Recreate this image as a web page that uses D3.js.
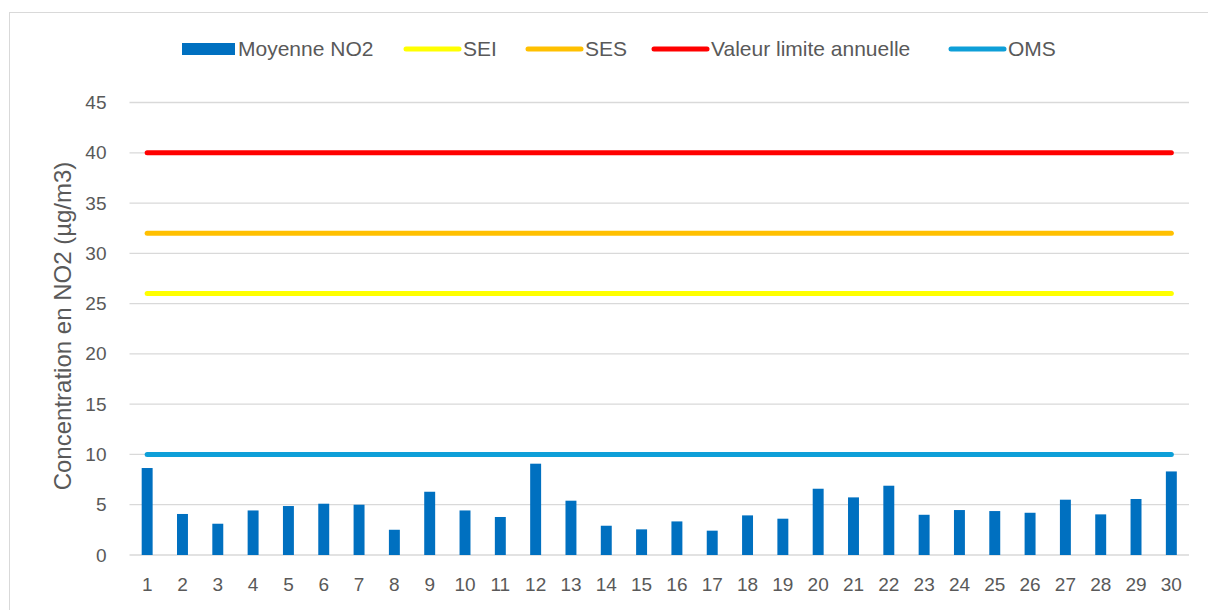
<!DOCTYPE html>
<html>
<head>
<meta charset="utf-8">
<script src="https://cdn.jsdelivr.net/npm/d3@7"></script>
<style>
  body { margin: 0; background: #fff; }
  text { font-family: "Liberation Sans", Arial, sans-serif; fill: #595959; }
</style>
</head>
<body>
<div id="chart"></div>
<script>
// Data
const days = d3.range(1, 31);
const moyenneNO2 = [8.65, 4.08, 3.11, 4.43, 4.87, 5.1, 5.0, 2.51, 6.29, 4.43,
                    3.78, 9.08, 5.4, 2.91, 2.55, 3.34, 2.42, 3.94, 3.61, 6.59,
                    5.73, 6.89, 4.0, 4.47, 4.37, 4.2, 5.5, 4.04, 5.57, 8.31];
const thresholds = [
  { name: "SEI", value: 26, color: "#FFFF00" },
  { name: "SES", value: 32, color: "#FFC000" },
  { name: "Valeur limite annuelle", value: 40, color: "#FF0000" },
  { name: "OMS", value: 10, color: "#0E9FD8" }
];
const yTicks = [0, 5, 10, 15, 20, 25, 30, 35, 40, 45];

const W = 1208, H = 610;
const margin = { top: 102.5, right: 19, bottom: 55, left: 129.5 };
const width = W - margin.left - margin.right,
      height = H - margin.top - margin.bottom;

const root = d3.select("#chart").append("svg")
  .attr("width", W).attr("height", H);

// chart area border
root.append("rect")
  .attr("x", 9.5).attr("y", 12.5)
  .attr("width", W + 10).attr("height", H + 10)
  .attr("fill", "none").attr("stroke", "#d9d9d9").attr("stroke-width", 1);

const svg = root.append("g")
  .attr("transform", `translate(${margin.left},${margin.top})`);

const x = d3.scaleBand().domain(days).range([0, width])
  .paddingInner(0.69).paddingOuter(0.345);
const y = d3.scaleLinear().domain([0, 45]).range([height, 0]);

// gridlines
svg.append("g")
  .selectAll("line")
  .data(yTicks)
  .join("line")
    .attr("x1", 0).attr("x2", width)
    .attr("y1", d => y(d)).attr("y2", d => y(d))
    .attr("stroke", "#d9d9d9").attr("stroke-width", 1.3);

// Y axis
const yAxis = svg.append("g")
  .call(d3.axisLeft(y).tickValues(yTicks).tickSize(0).tickPadding(23));
yAxis.select(".domain").remove();
yAxis.selectAll("text").style("font-size", "19px").attr("fill", "#595959");

// X axis
const xAxis = svg.append("g")
  .attr("transform", `translate(0,${height})`)
  .call(d3.axisBottom(x).tickSize(0).tickPadding(23));
xAxis.select(".domain").remove();
xAxis.selectAll("text").style("font-size", "19px").attr("fill", "#595959");

// Bars
svg.selectAll(".bar")
  .data(days)
  .join("rect")
    .attr("class", "bar")
    .attr("x", d => x(d))
    .attr("y", (d, i) => y(moyenneNO2[i]))
    .attr("width", x.bandwidth())
    .attr("height", (d, i) => height - y(moyenneNO2[i]))
    .attr("fill", "#0070C0");

// Threshold lines
const cx = d => x(d) + x.bandwidth() / 2;
svg.selectAll(".thr")
  .data(thresholds)
  .join("line")
    .attr("class", "thr")
    .attr("x1", cx(days[0])).attr("x2", cx(days[days.length - 1]))
    .attr("y1", d => y(d.value)).attr("y2", d => y(d.value))
    .attr("stroke", d => d.color)
    .attr("stroke-width", 5)
    .attr("stroke-linecap", "round");

// Y title
root.append("text")
  .attr("transform", "translate(63,326) rotate(-90)")
  .attr("text-anchor", "middle")
  .attr("dy", "0.35em")
  .style("font-size", "24px")
  .text("Concentration en NO2 (µg/m3)");

// Legend
const legend = root.append("g").attr("transform", "translate(0,49)");
legend.append("rect")
  .attr("x", 182).attr("y", -6).attr("width", 53).attr("height", 12)
  .attr("fill", "#0070C0");
legend.append("text")
  .attr("x", 238).attr("y", 0).attr("dy", "0.35em")
  .style("font-size", "21px").text("Moyenne NO2");

const legendX = [404, 526, 652, 949];
thresholds.forEach((t, i) => {
  legend.append("line")
    .attr("x1", legendX[i] + 2).attr("x2", legendX[i] + 55)
    .attr("y1", 0).attr("y2", 0)
    .attr("stroke", t.color).attr("stroke-width", 5)
    .attr("stroke-linecap", "round");
  legend.append("text")
    .attr("x", legendX[i] + 59).attr("y", 0).attr("dy", "0.35em")
    .style("font-size", "21px").text(t.name);
});
</script>
</body>
</html>
